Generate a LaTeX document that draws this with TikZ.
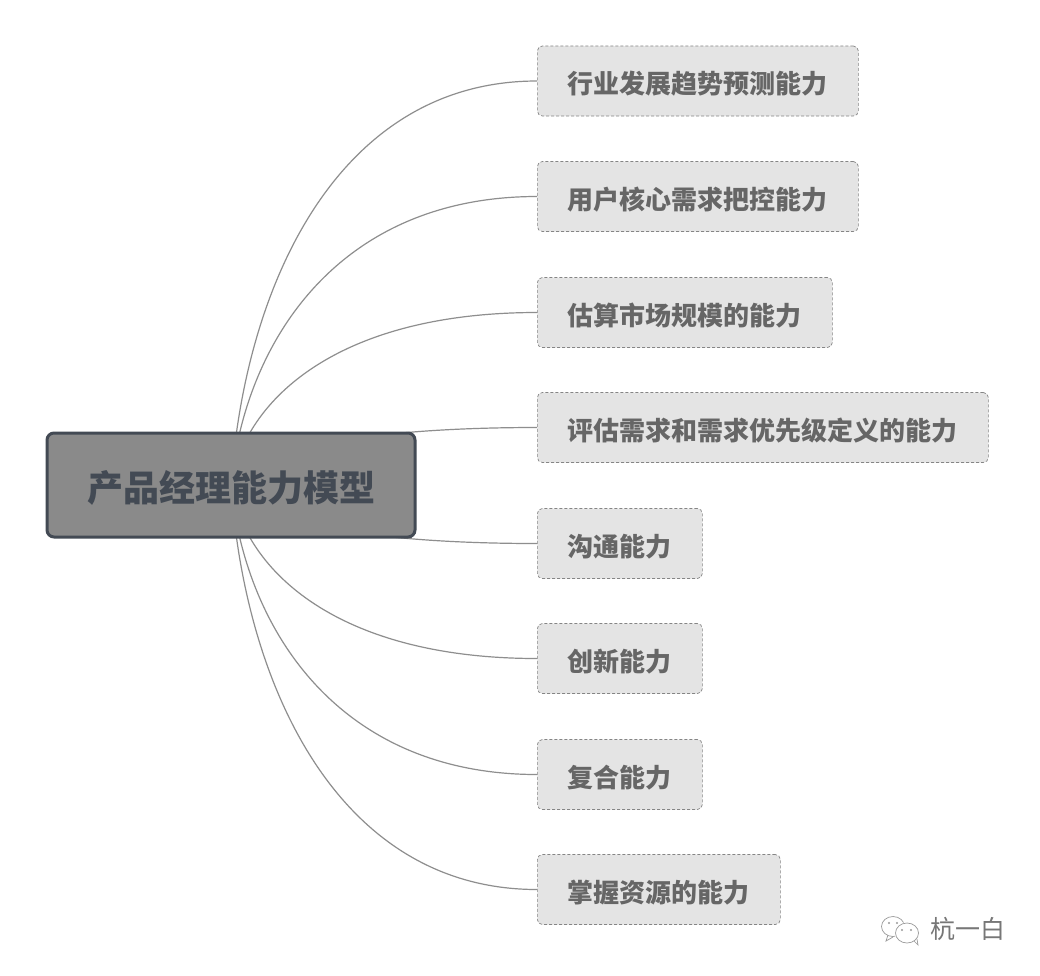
\documentclass[tikz,border=0pt]{standalone}
\usepackage{fontspec}
\usetikzlibrary{calc,backgrounds}
\newfontfamily\cjk{Noto Sans CJK SC}
\definecolor{linec}{HTML}{8E8E8E}
\tikzset{
 x=1pt,y=-1pt,
 rootbox/.style={draw=rootink,line width=3pt,fill=rootfill,rounded corners=7pt,minimum width=368pt,minimum height=104pt,inner sep=0pt,text=rootink,text height=34pt,text depth=0.6pt,font=\cjk\bfseries\fontsize{36}{40}\selectfont},
 childbox/.style={draw=childedge,densely dashed,line width=0.7pt,fill=childfill,rounded corners=5pt,minimum height=70pt,inner ysep=0pt,inner xsep=30.5pt,text=childink,text height=27pt,text depth=2pt,anchor=west,font=\cjk\bfseries\fontsize{26}{30}\selectfont},
 link/.style={draw=linec,line width=1.2pt},
 mark text/.style={text=markink,inner sep=0pt,font=\cjk\fontsize{25}{28}\selectfont},
 bubble/.style={draw=markedge,line width=0.7pt},
}
\definecolor{rootink}{HTML}{434A54}
\definecolor{rootfill}{HTML}{8A8A8A}
\definecolor{childedge}{HTML}{858585}
\definecolor{childfill}{HTML}{E4E4E4}
\definecolor{childink}{HTML}{666666}
\definecolor{markink}{HTML}{777777}
\definecolor{markedge}{HTML}{9A9A9A}
\begin{document}
\begin{tikzpicture}
\useasboundingbox (0,0) rectangle (1040,975);
\node[rootbox] (root) at (231,485) {产品经理能力模型};
\node[childbox] (n1) at (537,81) {行业发展趋势预测能力};
\node[childbox] (n2) at (537,196.5) {用户核心需求把控能力};
\node[childbox] (n3) at (537,312.5) {估算市场规模的能力};
\node[childbox] (n4) at (537,427.5) {评估需求和需求优先级定义的能力};
\node[childbox] (n5) at (537,543.5) {沟通能力};
\node[childbox] (n6) at (537,658.5) {创新能力};
\node[childbox] (n7) at (537,774.5) {复合能力};
\node[childbox] (n8) at (537,889.5) {掌握资源的能力};
\begin{scope}[on background layer]
\fill[white] (0,0) rectangle (1040,975);
\foreach \n in {n1,n2,n3,n4,n5,n6,n7,n8}{
 \draw[link] (root.center) .. controls ($(root.center)!0.5!(root.center|-\n.west)+(14,0)$) and ($(\n.west)+(-198,0)$) .. (\n.west);
}
\end{scope}
% watermark
\draw[bubble] (893,926.5) ellipse (11.5 and 10);
\fill[white] (907,933) ellipse (12.5 and 11);
\draw[bubble] (907,933) ellipse (11.5 and 10);
\draw[bubble] (888,935) -- (886,941) -- (893,937);
\draw[bubble] (914,941) -- (918,945) -- (917,939);
\foreach \p/\r in {889/923,897/923,902/930,911/930}{\fill[markedge] (\p,\r) circle (1.1);}
\node[mark text] (wm) at (967.5,929) {杭一白};
\end{tikzpicture}
\end{document}
